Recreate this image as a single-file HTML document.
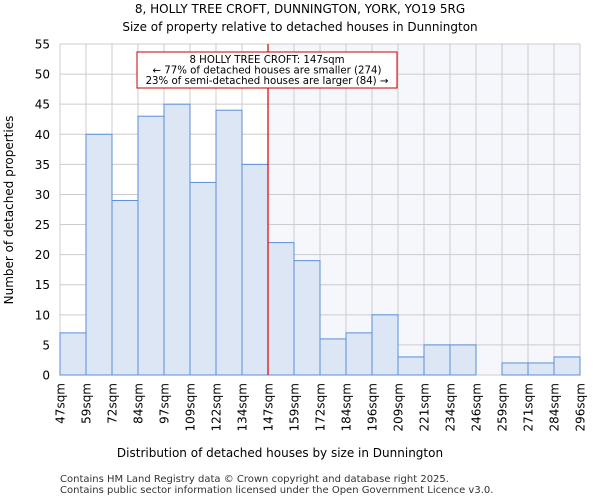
<!DOCTYPE html>
<html><head><meta charset="utf-8"><style>
body{margin:0;background:#fff;font-family:"DejaVu Sans","Liberation Sans",sans-serif}
</style></head><body>
<svg id="chart" width="600" height="500" xmlns="http://www.w3.org/2000/svg" font-family="DejaVu Sans, Liberation Sans, sans-serif">
<text x="300" y="13" text-anchor="middle" font-size="12">8, HOLLY TREE CROFT, DUNNINGTON, YORK, YO19 5RG</text>
<text x="300" y="31" text-anchor="middle" font-size="12">Size of property relative to detached houses in Dunnington</text>
<g id="plot"></g>
<text x="280" y="457" text-anchor="middle" font-size="12">Distribution of detached houses by size in Dunnington</text>
<text transform="translate(13,210) rotate(-90)" text-anchor="middle" font-size="12">Number of detached properties</text>
<text x="60" y="482" font-size="10" fill="#333">Contains HM Land Registry data © Crown copyright and database right 2025.</text>
<text x="60" y="493" font-size="10" fill="#333">Contains public sector information licensed under the Open Government Licence v3.0.</text>
</svg>
<script>
const categories=["47sqm","59sqm","72sqm","84sqm","97sqm","109sqm","122sqm","134sqm","147sqm","159sqm","172sqm","184sqm","196sqm","209sqm","221sqm","234sqm","246sqm","259sqm","271sqm","284sqm","296sqm"];
const counts=[7,40,29,43,45,32,44,35,22,19,6,7,10,3,5,5,0,2,2,3];
const yTicks=[0,5,10,15,20,25,30,35,40,45,50,55];
const markerBin=8;
const annotationLines=["8 HOLLY TREE CROFT: 147sqm","← 77% of detached houses are smaller (274)","23% of semi-detached houses are larger (84) →"];
const NS="http://www.w3.org/2000/svg";
const L=60,R=580,T=44,B=375,yMax=55;
const bw=(R-L)/counts.length;
const xs=i=>L+i*bw;
const ys=v=>B-(v/yMax)*(B-T);
const g=document.getElementById('plot');
function mk(t,a){const e=document.createElementNS(NS,t);for(const k in a)e.setAttribute(k,a[k]);g.appendChild(e);return e;}
let e=mk('rect',{x:xs(markerBin),y:T,width:R-xs(markerBin),height:B-T,fill:'#f5f7fd'});


yTicks.forEach(v=>{
 let l=mk('line',{x1:L,x2:R,y1:ys(v),y2:ys(v),stroke:'#ccc','stroke-width':1});
 
 
 let t=mk('text',{x:L-10,y:ys(v)+4.5,'text-anchor':'end','font-size':12});
 t.textContent=v;
 
 
});
categories.forEach((c,i)=>{
 let l=mk('line',{x1:xs(i),x2:xs(i),y1:T,y2:B,stroke:'#ccc','stroke-width':1});
 
 
 let t=mk('text',{transform:`translate(${xs(i)+4.5},${B+8}) rotate(-90)`,'text-anchor':'end','font-size':12});
 t.textContent=c;
 
 
});
counts.forEach((v,i)=>{
 let r=mk('rect',{x:xs(i),y:ys(v),width:bw,height:B-ys(v),fill:'#dce6f4',stroke:'#5b8fd6','stroke-width':1});
 
 
});
e=mk('line',{x1:xs(markerBin),x2:xs(markerBin),y1:T,y2:B,stroke:'#d00','stroke-width':1.2});


e=mk('rect',{x:137,y:52,width:260,height:36,fill:'#fff',stroke:'#c00','stroke-width':1});


annotationLines.forEach((s,i)=>{
 let t=mk('text',{x:267,y:63+i*10.5,'text-anchor':'middle','font-size':10.2});
 t.textContent=s;
 
 
});
</script>
</body></html>
